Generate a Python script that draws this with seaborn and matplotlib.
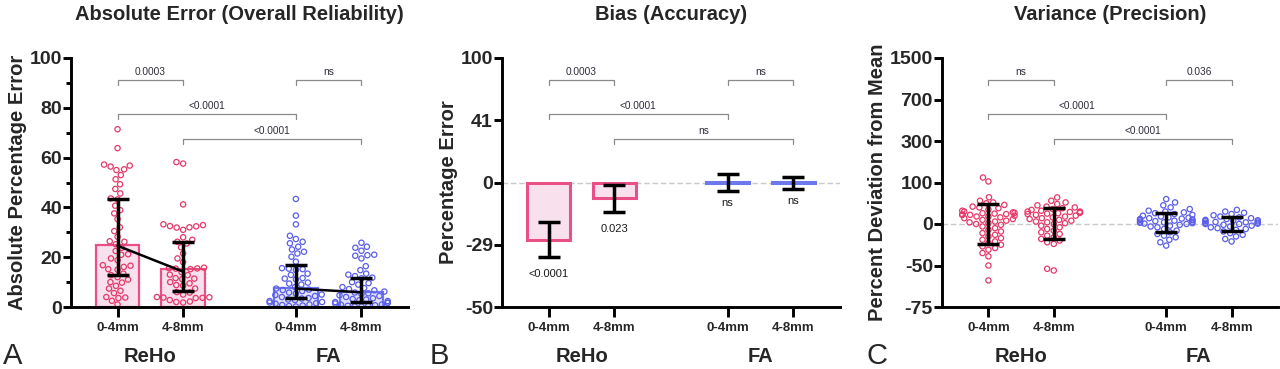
import numpy as np
import pandas as pd
import matplotlib
matplotlib.use("Agg")
import matplotlib.pyplot as plt
from matplotlib.ticker import NullLocator, MultipleLocator
import seaborn as sns

# ---------------- data ----------------
groups = ["ReHo", "ReHo", "FA", "FA"]
tick_labels = ["0-4mm", "4-8mm", "0-4mm", "4-8mm"]
group_names = ["ReHo", "FA"]

# Panel A: absolute percentage error (individual points)
abs_reho_04 = [71.4, 63.8, 57.2, 56.8, 56.4, 55.3, 55.0, 53.0, 51.3, 49.3, 47.4, 45.6, 43.6, 43.2,
               40.7, 38.9, 37.6, 35.3, 32.0, 30.5, 28.2, 26.4, 26.2, 25.2, 23.8, 22.5, 21.0, 21.2,
               19.5, 18.8, 16.8, 16.6, 16.1, 15.0, 15.2, 13.4, 12.8, 12.0, 11.0, 9.8, 10.0, 8.5,
               7.4, 6.5, 5.6, 3.8, 4.0, 3.6, 2.5, 1.0]
abs_reho_48 = [58.2, 57.6, 41.2, 33.2, 32.9, 32.5, 32.4, 32.0, 31.9, 31.0, 28.0, 27.0, 26.2, 25.5,
               24.0, 21.5, 19.5, 18.0, 15.8, 15.5, 15.4, 15.2, 15.6, 14.0, 13.0, 12.8, 11.6, 11.4,
               11.2, 10.0, 9.5, 8.8, 8.6, 7.4, 6.0, 5.8, 5.0, 3.8, 3.9, 3.7, 3.6, 4.0, 2.8, 2.0,
               2.2, 1.8]
abs_fa_04 = [43.4, 36.7, 33.2, 28.6, 27.3, 26.2, 25.6, 24.2, 23.1, 22.2, 21.5, 20.2, 18.2, 15.4,
             15.2, 15.6, 14.9, 13.4, 12.9, 11.4, 11.1, 11.6, 9.4, 9.0, 9.8, 8.0, 7.4, 7.0, 6.8, 6.4,
             5.4, 5.8, 5.0, 4.8, 4.4, 4.0, 3.4, 3.0, 3.6, 2.8, 2.4, 2.0, 1.8, 1.5, 1.3, 1.0, 0.8,
             0.6, 0.4, 0.2]
abs_fa_48 = [25.8, 24.2, 23.8, 22.6, 21.0, 20.8, 20.6, 19.5, 16.4, 14.8, 13.4, 13.0, 12.4, 11.8,
             11.5, 10.0, 9.6, 9.0, 8.0, 7.6, 7.2, 6.7, 6.2, 5.8, 5.5, 5.2, 4.7, 4.4, 4.0, 3.5, 3.2,
             3.0, 2.7, 2.4, 2.0, 1.8, 1.6, 1.4, 1.0, 0.9, 0.7, 0.5, 0.4, 0.3, 0.2]
abs_bar = [25.0, 15.3, 7.8, 6.1]
abs_median = [24.6, 14.2, 7.4, 5.9]
abs_err_low = [12.9, 6.6, 3.7, 1.9]
abs_err_high = [43.4, 26.2, 16.9, 11.8]

# Panel B: bias (percentage error)
bias_mean = [-26.6, -7.0, 0.5, 0.2]
bias_err_low = [-33.1, -13.6, -3.8, -3.0]
bias_err_high = [-18.6, -1.1, 5.6, 3.4]
bias_pvals = ["<0.0001", "0.023", "ns", "ns"]
bias_ticks = [-50, -29, 0, 41, 100]

# Panel C: percent deviation from mean (individual points)
dev_reho_04 = [124, 105, 64.5, 56, 52, 50, 46, 42, 40, 38, 35, 32, 30, 28, 27, 26, 25, 24, 23, 22,
               22, 20, 18, 18, 16, 14, 12, 10, 8, 6, 4, 2, 0, -1, -3, -5, -7, -9, -11, -13, -15,
               -17, -19, -21, -23, -25, -27, -29, -31, -35, -39, -50, -59]
dev_reho_48 = [64, 56, 52, 48, 45, 42, 40, 38, 36, 34, 32, 30, 30, 29, 28, 27, 26, 25, 24, 22, 20,
               18, 16, 14, 12, 10, 8, 6, 4, 2, 0, -2, -4, -6, -8, -10, -12, -14, -16, -18, -20,
               -22, -24, -52, -53]
dev_fa_04 = [60, 52, 45, 40, 36, 32, 30, 28, 26, 24, 22, 20, 18, 16, 15, 14, 13, 12, 11, 10, 9, 8,
             7, 6, 5, 4, 3, 2, 1, 0, -1, -2, -3, -4, -6, -8, -10, -12, -14, -16, -19, -22, -26]
dev_fa_48 = [34, 30, 27, 24, 21, 18, 16, 14, 12, 10, 9, 8, 7, 6, 5, 4, 3, 2, 1, 0, 0, -1, -2, -3,
             -4, -5, -6, -7, -9, -11, -13, -15, -18, -21]
dev_err_low = [-24.0, -18.4, -9.2, -8.0]
dev_err_high = [48.0, 38.0, 27.4, 17.7]
dev_ticks = [-75, -50, 0, 100, 300, 700, 1500]

# significance brackets: (i, j, level, label)
brackets_A = [(0, 1, 0, "0.0003"), (2, 3, 0, "ns"), (0, 2, 1, "<0.0001"), (1, 3, 2, "<0.0001")]
brackets_B = [(0, 1, 0, "0.0003"), (2, 3, 0, "ns"), (0, 2, 1, "<0.0001"), (1, 3, 2, "ns")]
brackets_C = [(0, 1, 0, "ns"), (2, 3, 0, "0.036"), (0, 2, 1, "<0.0001"), (1, 3, 2, "<0.0001")]

titles = ["Absolute Error (Overall Reliability)", "Bias (Accuracy)", "Variance (Precision)"]
ylabels = ["Absolute Percentage Error", "Percentage Error", "Percent Deviation from Mean"]

# ---------------- layout / style ----------------
POS = np.array([0.0, 1.0, 2.72, 3.72])
XLIM = (-0.71, 4.43)
PINK_PT, BLUE_PT = "#e5396a", "#5a5ee8"
PINK_FILL, BLUE_FILL = "#fcdcec", "#dde0fa"
PINK_EDGE, BLUE_EDGE = "#ea4f86", "#6d78ee"
BR_Y = [0.912, 0.777, 0.675]

sns.set_style("ticks")
plt.rcParams["font.family"] = ["Liberation Sans", "DejaVu Sans"]
plt.rcParams["axes.unicode_minus"] = False

fig = plt.figure(figsize=(12.8, 3.69), dpi=100)
ax_a = fig.add_axes([71 / 1280, 1 - 307 / 369, 337 / 1280, 249 / 369])
ax_b = fig.add_axes([502 / 1280, 1 - 307 / 369, 338 / 1280, 249 / 369])
ax_c = fig.add_axes([942 / 1280, 1 - 307 / 369, 336 / 1280, 249 / 369])


def piecewise(vals):
    v = np.asarray(vals, float)
    u = np.arange(len(v), dtype=float)

    def fwd(x):
        x = np.asarray(x, float)
        y = np.interp(x, v, u)
        y = np.where(x < v[0], (x - v[0]) / (v[1] - v[0]), y)
        y = np.where(x > v[-1], u[-1] + (x - v[-1]) / (v[-1] - v[-2]), y)
        return y

    def inv(y):
        y = np.asarray(y, float)
        x = np.interp(y, u, v)
        x = np.where(y < 0, v[0] + y * (v[1] - v[0]), x)
        x = np.where(y > u[-1], v[-1] + (y - u[-1]) * (v[-1] - v[-2]), x)
        return x

    return fwd, inv


def swarm(ax, series, size=3.8):
    rows = []
    for p, g, vals in zip(POS, groups, series):
        for v in vals:
            rows.append((p, v, g))
    df = pd.DataFrame(rows, columns=["pos", "val", "group"])
    n0 = len(ax.collections)
    sns.swarmplot(data=df, x="pos", y="val", hue="group", hue_order=group_names,
                  palette=[PINK_PT, BLUE_PT], native_scale=True, orient="x", size=size,
                  linewidth=0.9, legend=False, ax=ax, zorder=2, warn_thresh=1.0)
    for c in ax.collections[n0:]:
        fc = c.get_facecolor()
        c.set_edgecolor(fc.copy())
        c.set_facecolor("none")


def bars(ax, heights, lw):
    df = pd.DataFrame({"pos": POS, "val": heights, "group": groups})
    sns.barplot(data=df, x="pos", y="val", hue="group", hue_order=group_names,
                palette=[PINK_FILL, BLUE_FILL], native_scale=True, orient="x", width=0.66,
                dodge=False, legend=False, errorbar=None, ax=ax, zorder=1)
    patches = sorted(ax.patches, key=lambda p: p.get_x())
    for p, g in zip(patches, groups):
        p.set_edgecolor(PINK_EDGE if g == "ReHo" else BLUE_EDGE)
        p.set_linewidth(lw)


def errbars(ax, lo, hi):
    lo = np.asarray(lo); hi = np.asarray(hi)
    mid = (lo + hi) / 2
    ax.errorbar(POS, mid, yerr=[mid - lo, hi - mid], fmt="none", ecolor="black",
                elinewidth=2.5, capsize=8, capthick=2.5, zorder=4)


def brackets(ax, items):
    tr = ax.get_xaxis_transform()
    for i, j, lvl, lab in items:
        y = BR_Y[lvl]
        x1, x2 = POS[i], POS[j]
        ax.plot([x1, x1, x2, x2], [y - 0.022, y, y, y - 0.022], transform=tr,
                color="#8a8a8a", lw=0.9, clip_on=False, zorder=5)
        ax.text((x1 + x2) / 2, y + 0.012, lab, transform=tr, ha="center", va="bottom",
                fontsize=7.3, color="#2d2d3a", clip_on=False)


def style(ax, ylabel, title):
    for s in ["top", "right"]:
        ax.spines[s].set_visible(False)
    for s in ["left", "bottom"]:
        ax.spines[s].set_linewidth(2.1)
        ax.spines[s].set_color("black")
    ax.set_xlim(*XLIM)
    ax.set_xticks(POS)
    ax.set_xticklabels(tick_labels, fontsize=9.5, fontweight="bold")
    ax.set_xlabel("")
    ax.tick_params(axis="x", length=7, width=2.1, pad=4, color="black")
    ax.tick_params(axis="y", which="major", length=5.5, width=2.1, pad=1, labelsize=14,
                   color="black")
    for t in ax.get_yticklabels():
        t.set_fontweight("bold")
    ax.set_ylabel(ylabel, fontsize=14.5, fontweight="bold", labelpad=2)
    tr = ax.get_xaxis_transform()
    ax.text((POS[0] + POS[1]) / 2, -0.2, "ReHo", transform=tr, ha="center", va="center",
            fontsize=14.5, fontweight="bold")
    ax.text((POS[2] + POS[3]) / 2, -0.2, "FA", transform=tr, ha="center", va="center",
            fontsize=14.5, fontweight="bold")
    ax.text(0.5, 1.175, title, transform=ax.transAxes, ha="center", va="center",
            fontsize=14.5, fontweight="bold")


# ---------------- Panel A ----------------
bars(ax_a, abs_bar, 1.6)
swarm(ax_a, [abs_reho_04, abs_reho_48, abs_fa_04, abs_fa_48])
errbars(ax_a, abs_err_low, abs_err_high)
ax_a.plot(POS[:2], abs_median[:2], color="black", lw=1.8, zorder=4)
ax_a.plot(POS[2:], abs_median[2:], color="black", lw=1.8, zorder=4)
ax_a.set_ylim(0, 100)
ax_a.set_yticks([0, 20, 40, 60, 80, 100])
ax_a.yaxis.set_minor_locator(MultipleLocator(10))
ax_a.tick_params(axis="y", which="minor", length=3.5, width=2.1, color="black")
brackets(ax_a, brackets_A)
style(ax_a, ylabels[0], titles[0])

# ---------------- Panel B ----------------
fb, ib = piecewise(bias_ticks)
ax_b.set_yscale("function", functions=(fb, ib))
ax_b.axhline(0, color="#c9c9c9", lw=1.0, ls=(0, (4, 2)), zorder=0)
bars(ax_b, bias_mean, 2.2)
errbars(ax_b, bias_err_low, bias_err_high)
ax_b.set_yscale("function", functions=(fb, ib))
ax_b.set_ylim(-50, 100)
ax_b.set_yticks(bias_ticks)
ax_b.set_yticklabels([str(t) for t in bias_ticks])
ax_b.yaxis.set_minor_locator(NullLocator())
for p, lo, lab in zip(POS, bias_err_low, bias_pvals):
    off = 5 if lab == "ns" else 9
    ax_b.annotate(lab, (p, min(lo, 0) if lab == "ns" else lo), xytext=(0, -off),
                  textcoords="offset points", ha="center", va="top", fontsize=8,
                  color="#1a1a1a")
brackets(ax_b, brackets_B)
style(ax_b, ylabels[1], titles[1])

# ---------------- Panel C ----------------
fc_, ic_ = piecewise(dev_ticks)
ax_c.set_yscale("function", functions=(fc_, ic_))
ax_c.axhline(0, color="#c9c9c9", lw=1.0, ls=(0, (4, 2)), zorder=0)
swarm(ax_c, [dev_reho_04, dev_reho_48, dev_fa_04, dev_fa_48])
errbars(ax_c, dev_err_low, dev_err_high)
ax_c.set_yscale("function", functions=(fc_, ic_))
ax_c.set_ylim(-75, 1500)
ax_c.set_yticks(dev_ticks)
ax_c.set_yticklabels([str(t) for t in dev_ticks])
ax_c.yaxis.set_minor_locator(NullLocator())
brackets(ax_c, brackets_C)
style(ax_c, ylabels[2], titles[2])

# panel letters
for x, letter in [(3, "A"), (430, "B"), (866, "C")]:
    fig.text(x / 1280, 1 - 356 / 369, letter, fontsize=21, ha="left", va="center")

fig.savefig("out.png", dpi=100)
